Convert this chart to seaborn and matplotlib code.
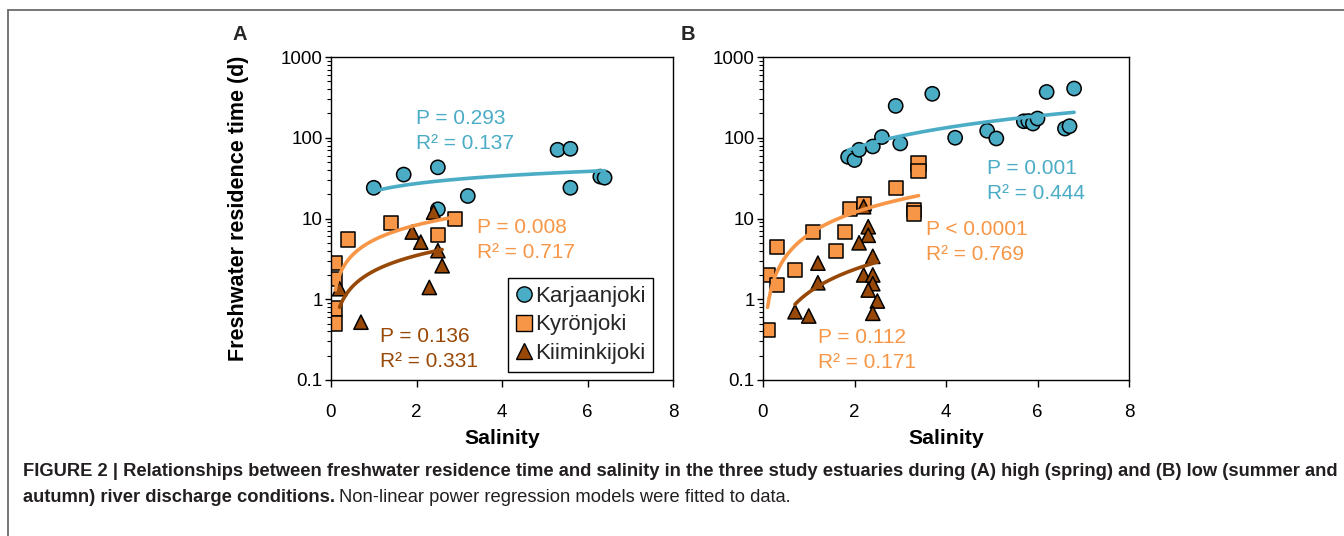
import numpy as np
import pandas as pd
import matplotlib
matplotlib.use('Agg')
import matplotlib.pyplot as plt
import seaborn as sns
from matplotlib.lines import Line2D
from matplotlib.ticker import LogLocator, FixedLocator, FuncFormatter, NullFormatter

sns.set_theme(style='ticks')
plt.rcParams['font.family'] = ['Liberation Sans', 'DejaVu Sans']

# =====================================================
# Data
# =====================================================
rivers = ['Karjaanjoki', 'Kyrönjoki', 'Kiiminkijoki']
colors = {'Karjaanjoki': '#4BACC6', 'Kyrönjoki': '#F79646', 'Kiiminkijoki': '#984807'}
markers = {'Karjaanjoki': 'o', 'Kyrönjoki': 's', 'Kiiminkijoki': '^'}

# Panel A - high discharge (spring)
a_karj_sal = [1.0, 1.7, 2.5, 2.5, 3.2, 5.3, 5.6, 5.6, 6.3, 6.4]
a_karj_rt = [24, 35, 43, 13, 19, 71, 73, 24, 33, 32]
a_kyro_sal = [0.1, 0.1, 0.1, 0.1, 0.4, 1.4, 2.5, 2.9]
a_kyro_rt = [2.8, 1.8, 0.77, 0.5, 5.5, 8.8, 6.3, 9.8]
a_kiim_sal = [2.4, 1.9, 2.1, 2.5, 2.6, 2.3, 0.2, 0.7]
a_kiim_rt = [12, 6.8, 5.1, 4.0, 2.6, 1.4, 1.35, 0.52]

# Panel B - low discharge (summer and autumn)
b_karj_sal = [1.86, 2.0, 2.1, 2.4, 2.6, 3.0, 2.9, 3.7, 4.2, 4.9, 5.1,
              5.7, 5.8, 5.9, 6.0, 6.2, 6.6, 6.7, 6.8]
b_karj_rt = [58, 53, 71, 78, 102, 85, 248, 350, 100, 122, 98,
             160, 161, 150, 173, 369, 130, 139, 407]
b_kyro_sal = [0.1, 0.1, 0.3, 0.3, 0.7, 1.1, 1.6, 1.8, 1.9, 2.2, 2.9, 3.4, 3.4, 3.3, 3.3]
b_kyro_rt = [2.0, 0.42, 4.4, 1.5, 2.3, 6.8, 4.0, 6.8, 13, 15, 24, 48, 39, 12.7, 11.5]
b_kiim_sal = [2.2, 2.3, 2.3, 2.1, 2.4, 1.2, 2.2, 2.4, 2.4, 2.3, 1.2, 2.5, 2.4, 0.7, 1.0]
b_kiim_rt = [14, 7.9, 6.2, 5.0, 3.4, 2.8, 2.0, 2.0, 1.56, 1.3, 1.6, 0.95, 0.67, 0.7, 0.62]

# Regression statistics shown on the chart
a_stats = {'Karjaanjoki': ('P = 0.293', 'R² = 0.137'),
           'Kyrönjoki': ('P = 0.008', 'R² = 0.717'),
           'Kiiminkijoki': ('P = 0.136', 'R² = 0.331')}
b_stats = {'Karjaanjoki': ('P = 0.001', 'R² = 0.444'),
           'Kyrönjoki': ('P < 0.0001', 'R² = 0.769'),
           'Kiiminkijoki': ('P = 0.112', 'R² = 0.171')}


def make_df(karj, kyro, kiim):
    parts = []
    for name, (sal, rt) in zip(rivers, [karj, kyro, kiim]):
        parts.append(pd.DataFrame({'salinity': sal, 'residence': rt, 'river': name}))
    return pd.concat(parts, ignore_index=True)


df_a = make_df((a_karj_sal, a_karj_rt), (a_kyro_sal, a_kyro_rt), (a_kiim_sal, a_kiim_rt))
df_b = make_df((b_karj_sal, b_karj_rt), (b_kyro_sal, b_kyro_rt), (b_kiim_sal, b_kiim_rt))

# =====================================================
# Figure
# =====================================================
W, H = 1344, 536
fig = plt.figure(figsize=(W / 100, H / 100), dpi=100)


def px_axes(left, right, top, bottom):
    return fig.add_axes([left / W, 1 - bottom / H, (right - left) / W, (bottom - top) / H])


ax_a = px_axes(331, 673, 57, 380)
ax_b = px_axes(763, 1129, 57, 380)


def draw_panel(ax, df):
    sns.scatterplot(data=df, x='salinity', y='residence', hue='river', style='river',
                    hue_order=rivers, style_order=rivers, palette=colors, markers=markers,
                    s=105, edgecolor='black', linewidth=1.1, legend=False, ax=ax, zorder=2)
    # power regression y = a * x^b (fit in log-log space)
    for name in rivers:
        sub = df[df['river'] == name]
        b, ln_a = np.polyfit(np.log(sub['salinity']), np.log(sub['residence']), 1)
        xs = np.linspace(sub['salinity'].min(), sub['salinity'].max(), 200)
        ys = np.exp(ln_a) * xs ** b
        sns.lineplot(x=xs, y=ys, color=colors[name], linewidth=2.6, estimator=None,
                     ax=ax, zorder=3)

    ax.set_yscale('log')
    ax.set_ylim(0.1, 1000)
    ax.set_xlim(0, 8)
    ax.xaxis.set_major_locator(FixedLocator([0, 2, 4, 6, 8]))
    ax.yaxis.set_major_locator(LogLocator(base=10, numticks=10))
    ax.yaxis.set_minor_locator(LogLocator(base=10, subs=np.arange(2, 10), numticks=10))
    ax.yaxis.set_major_formatter(FuncFormatter(lambda v, p: f'{v:g}'))
    ax.yaxis.set_minor_formatter(NullFormatter())
    ax.tick_params(axis='both', which='major', direction='out', length=5, width=1,
                   color='black', labelsize=13.5, labelcolor='black')
    ax.tick_params(axis='x', which='major', pad=12)
    ax.tick_params(axis='y', which='major', length=4, pad=2)
    ax.tick_params(axis='y', which='minor', direction='out', length=3, width=0.8, color='black')
    for sp in ax.spines.values():
        sp.set_color('black')
        sp.set_linewidth(1)
    ax.set_xlabel('Salinity', fontsize=15.3, fontweight='bold', color='black')
    ax.xaxis.set_label_coords(0.5, -0.152)
    ax.set_ylabel('')


draw_panel(ax_a, df_a)
draw_panel(ax_b, df_b)

ax_a.set_ylabel('Freshwater residence time (d)', fontsize=15.5, fontweight='bold', color='black')
ax_a.yaxis.set_label_coords(-0.24, 0.53)


def stat_text(ax, x, y_mid, lines, color):
    ax.text(x, y_mid + 0.039, lines[0], transform=ax.transAxes, fontsize=15,
            color=color, ha='left', va='center')
    ax.text(x, y_mid - 0.039, lines[1], transform=ax.transAxes, fontsize=15,
            color=color, ha='left', va='center')


stat_text(ax_a, 0.249, 0.772, a_stats['Karjaanjoki'], colors['Karjaanjoki'])
stat_text(ax_a, 0.426, 0.433, a_stats['Kyrönjoki'], colors['Kyrönjoki'])
stat_text(ax_a, 0.143, 0.095, a_stats['Kiiminkijoki'], colors['Kiiminkijoki'])
stat_text(ax_b, 0.613, 0.617, b_stats['Karjaanjoki'], colors['Karjaanjoki'])
stat_text(ax_b, 0.445, 0.427, b_stats['Kyrönjoki'], colors['Kyrönjoki'])
stat_text(ax_b, 0.151, 0.093, b_stats['Kiiminkijoki'], colors['Kyrönjoki'])

# legend in panel A
handles = [Line2D([], [], linestyle='none', marker=markers[n], markersize=11,
                  markerfacecolor=colors[n], markeredgecolor='black', markeredgewidth=1)
           for n in rivers]
leg = ax_a.legend(handles, rivers, loc='lower right', bbox_to_anchor=(0.942, 0.025),
                  borderaxespad=0, fontsize=16, frameon=True, fancybox=False,
                  edgecolor='black', framealpha=1, handlelength=0.7, handletextpad=0.15,
                  labelspacing=0.34, borderpad=0.36)
leg.get_frame().set_linewidth(1)

# panel letters
fig.text(240 / W, 1 - 35 / H, 'A', fontsize=14.5, fontweight='bold', ha='center', va='center')
fig.text(688 / W, 1 - 35 / H, 'B', fontsize=14.5, fontweight='bold', ha='center', va='center')

# frame around the figure (only top and left edges visible)
fig.add_artist(Line2D([8 / W, 1], [1 - 10 / H, 1 - 10 / H], transform=fig.transFigure,
                      color='#6b6b6b', linewidth=1.3))
fig.add_artist(Line2D([8 / W, 8 / W], [0, 1 - 10 / H], transform=fig.transFigure,
                      color='#6b6b6b', linewidth=1.3))

# caption
cap_color = '#231f20'
cap_size = 13.25
fig.text(23 / W, 1 - 471 / H,
         'FIGURE 2 | Relationships between freshwater residence time and salinity in the three '
         'study estuaries during (A) high (spring) and (B) low (summer and',
         fontsize=cap_size, fontweight='bold', color=cap_color, ha='left', va='center')
t_bold = fig.text(23 / W, 1 - 497 / H, 'autumn) river discharge conditions.',
                  fontsize=cap_size, fontweight='bold', color=cap_color, ha='left', va='center')
renderer = fig.canvas.get_renderer()
bb = t_bold.get_window_extent(renderer=renderer)
fig.text(bb.x1 / W + 4 / W, 1 - 497 / H, 'Non-linear power regression models were fitted to data.',
         fontsize=cap_size, color=cap_color, ha='left', va='center')

fig.savefig('out.png', dpi=100)
